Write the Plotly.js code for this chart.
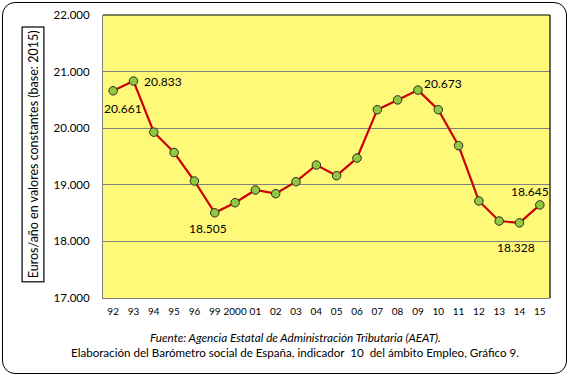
<!DOCTYPE html>
<html><head><meta charset="utf-8">
<script src="https://cdn.plot.ly/plotly-3.0.1.min.js"></script>
<style>
body{margin:0;padding:0;background:#fff;}
#wrap{position:relative;width:572px;height:381px;}
#chart{position:absolute;left:0;top:0;width:572px;height:381px;}
#frame{position:absolute;left:2px;top:2px;width:563px;height:370px;border:1.5px solid #000;border-radius:13px;pointer-events:none;}
</style></head>
<body><div id="wrap"><div id="chart"></div><div id="frame"></div></div>
<script>
const years = ["92","93","94","95","96","99","2000","01","02","03","04","05","06","07","08","09","10","11","12","13","14","15"];
const values = [20661,20833,19930,19570,19067,18505,18684,18908,18843,19055,19350,19161,19473,20327,20500,20673,20327,19691,18714,18360,18328,18645];
const labelYears = ["92","93","99","09","14","15"];
const yTicks = [17000,18000,19000,20000,21000,22000];
const sourceLine1 = "Fuente: Agencia Estatal de Administración Tributaria (AEAT).";
const sourceLine2 = "Elaboración del Barómetro social de España, indicador  10  del ámbito Empleo, Gráfico 9.";
const yTitle = "Euros/año en valores constantes (base: 2015)";

const FONT = "Lato, 'Open Sans', sans-serif";
function fmt(v){ return String(v).replace(/\B(?=(\d{3})+(?!\d))/g, "."); }

// label offsets (pixels) per labelled point: [dx, dy downwards]
const offs = {"92":[10,18],"93":[30,0],"99":[-7,16],"09":[25,-7],"14":[-4,25],"15":[-10,-13]};

const ann = labelYears.map(y => {
  const i = years.indexOf(y);
  return {x: i, y: values[i], xref:'x', yref:'y', text: fmt(values[i]), showarrow:false,
    xanchor:'center', yanchor:'middle',
    xshift: offs[y][0], yshift: -offs[y][1], font:{family:FONT, size:12, color:'#000'}};
});
ann.push({xref:'paper', yref:'paper', x:-0.1556, y:0.509, xanchor:'center', yanchor:'middle', text: yTitle, textangle:-90, showarrow:false,
  font:{family:FONT, size:12.5, color:'#000'}, bordercolor:'#000', borderwidth:1.2, borderpad:3, bgcolor:'#fff'});
ann.push({xref:'paper', yref:'paper', x:0.43, y:-0.138, xanchor:'center', yanchor:'middle', text:'<i>'+sourceLine1+'</i>', showarrow:false,
  font:{family:FONT, size:11.7, color:'#000'}});
ann.push({xref:'paper', yref:'paper', x:0.43, y:-0.194, xanchor:'center', yanchor:'middle', text:sourceLine2, showarrow:false,
  font:{family:FONT, size:11.6, color:'#000'}});

const trace = {x: years, y: values, type:'scatter', mode:'lines+markers',
  line:{color:'#CC0000', width:2.2},
  marker:{color:'#92C83E', size:8.5, line:{color:'#2a2a2a', width:1}},
  hoverinfo:'skip', cliponaxis:false};

const layout = {
  width:572, height:381,
  margin:{l:103, r:22, t:15, b:83},
  paper_bgcolor:'#fff', plot_bgcolor:'#FFF97A',
  separators:',.',
  showlegend:false,
  xaxis:{type:'category', range:[-0.5, years.length-0.5], showgrid:false, zeroline:false, showline:true, linecolor:'#808080', linewidth:1,
    ticks:'', tickmode:'array', tickvals:years, ticktext:years, tickangle:0, ticklabelstandoff:4,
    tickfont:{family:FONT, size:10, color:'#000'}, fixedrange:true},
  yaxis:{range:[17000,22000], tickvals:yTicks, ticktext:yTicks.map(fmt), showgrid:true, gridcolor:'#808080', gridwidth:1,
    zeroline:false, showline:true, linecolor:'#808080', ticks:'', ticklabelstandoff:10,
    tickfont:{family:FONT, size:11.5, color:'#000'}, fixedrange:true},
  shapes:[
    {type:'line', xref:'paper', yref:'paper', x0:0, x1:1, y0:1, y1:1, line:{color:'#000', width:1.2}},
    {type:'line', xref:'paper', yref:'paper', x0:1, x1:1, y0:0, y1:1, line:{color:'#000', width:1.2}}
  ],
  annotations: ann
};
Plotly.newPlot('chart', [trace], layout, {displayModeBar:false, staticPlot:true});
</script></body></html>
